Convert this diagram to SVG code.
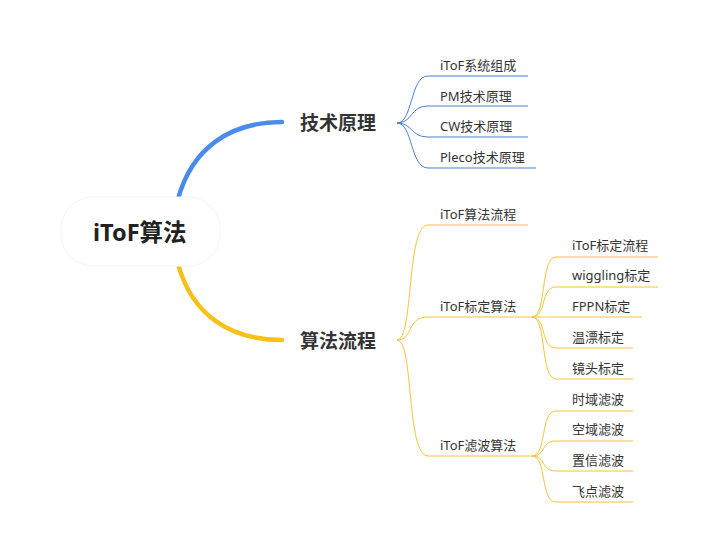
<svg xmlns="http://www.w3.org/2000/svg" width="709" height="552" viewBox="0 0 709 552">
<style>
text{font-family:"Noto Sans","Noto Sans CJK SC",sans-serif;fill:#333;}
.t3{font-size:13px;}
.t1{font-size:19px;font-weight:600;}
.t0{font-size:23.5px;font-weight:700;fill:#222;}
.b{fill:none;stroke:#4A7FD6;stroke-width:1;}
.y{fill:none;stroke:#F3C43A;stroke-width:1;}
</style>
<rect width="709" height="552" fill="#fff"/>
<g id="connectors">
<path d="M178,199 C192,148 230,122 282,122" fill="none" stroke="#4A8BEA" stroke-width="4.5" stroke-linecap="round"/>
<path d="M178,264 C192,315 230,340 282,340" fill="none" stroke="#F6C11A" stroke-width="4.5" stroke-linecap="round"/>
<path class="b" d="M397,123 C413,123 410,76 428,76 H528"/>
<path class="b" d="M397,123 C413,123 410,106 428,106 H528"/>
<path class="b" d="M397,123 C413,123 410,137 428,137 H528"/>
<path class="b" d="M397,123 C413,123 410,168 428,168 H536"/>
<path class="y" d="M397,340 C414,340 406,225 428,225 H528"/>
<path class="y" d="M397,340 C414,340 406,317 428,317 H532"/>
<path class="y" d="M397,340 C414,340 406,456 428,456 H532"/>
<path class="y" d="M532,317 C547,317 540,257 556,257 H658"/>
<path class="y" d="M532,317 C547,317 540,287 556,287 H658"/>
<path class="y" d="M532,317 C547,317 540,317 556,317 H642"/>
<path class="y" d="M532,317 C547,317 540,348 556,348 H633"/>
<path class="y" d="M532,317 C547,317 540,379 556,379 H633"/>
<path class="y" d="M532,456 C547,456 540,411 556,411 H633"/>
<path class="y" d="M532,456 C547,456 540,441 556,441 H633"/>
<path class="y" d="M532,456 C547,456 540,471 556,471 H633"/>
<path class="y" d="M532,456 C547,456 540,502 556,502 H633"/>
</g>
<g id="root">
<rect x="61" y="197" width="159" height="69" rx="32" fill="#fff" stroke="#f5f5f5"/>
<text class="t0" x="93" y="241">iToF算法</text>
</g>
<g id="n-jsyl"><text class="t1" x="300" y="130">技术原理</text></g>
<g id="n-sflc"><text class="t1" x="300" y="348">算法流程</text></g>
<g id="n-1"><text class="t3" x="440" y="70">iToF系统组成</text></g>
<g id="n-2"><text class="t3" x="440" y="101">PM技术原理</text></g>
<g id="n-3"><text class="t3" x="440" y="131">CW技术原理</text></g>
<g id="n-4"><text class="t3" x="440" y="162">Pleco技术原理</text></g>
<g id="n-5"><text class="t3" x="440" y="219">iToF算法流程</text></g>
<g id="n-6"><text class="t3" x="440" y="311">iToF标定算法</text></g>
<g id="n-7"><text class="t3" x="440" y="450">iToF滤波算法</text></g>
<g id="n-8"><text class="t3" x="572" y="250">iToF标定流程</text></g>
<g id="n-9"><text class="t3" x="572" y="280">wiggling标定</text></g>
<g id="n-10"><text class="t3" x="572" y="311">FPPN标定</text></g>
<g id="n-11"><text class="t3" x="572" y="342">温漂标定</text></g>
<g id="n-12"><text class="t3" x="572" y="373">镜头标定</text></g>
<g id="n-13"><text class="t3" x="572" y="404">时域滤波</text></g>
<g id="n-14"><text class="t3" x="572" y="434">空域滤波</text></g>
<g id="n-15"><text class="t3" x="572" y="465">置信滤波</text></g>
<g id="n-16"><text class="t3" x="572" y="496">飞点滤波</text></g>
</svg>
